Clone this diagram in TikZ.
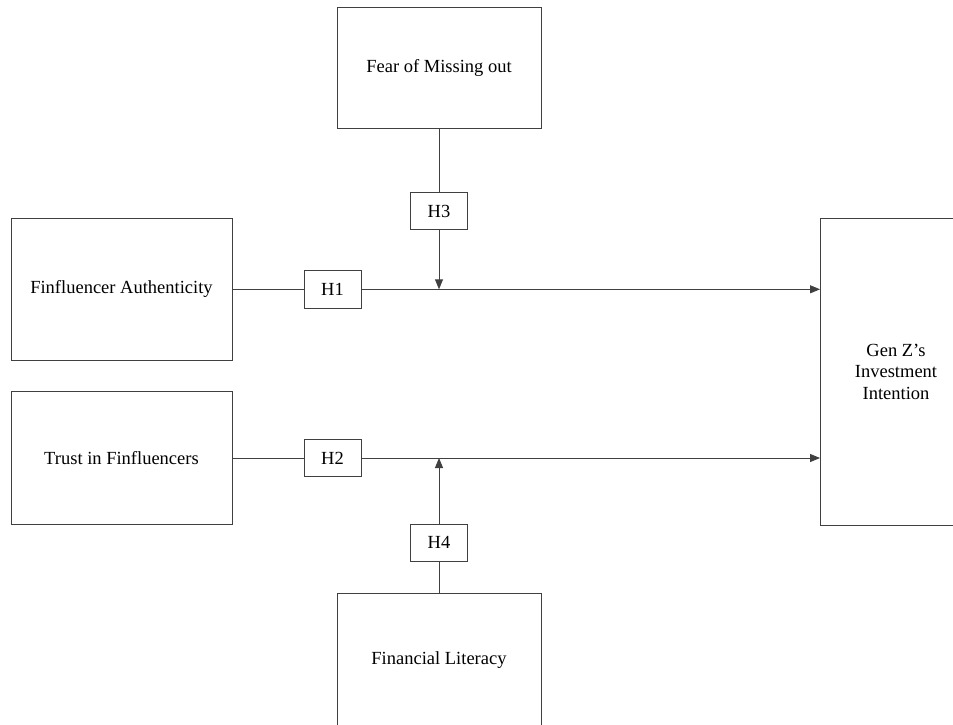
\documentclass[tikz,border=0pt]{standalone}
\usepackage{fontspec}
\setmainfont{Liberation Serif}
\usetikzlibrary{arrows.meta}
\tikzset{
  construct/.style={draw=black!75, line width=0.9pt, inner sep=0pt, align=center,
    font=\fontsize{18.5}{21.5}\selectfont},
  hyp/.style={construct, minimum width=57pt, minimum height=37.5pt},
  link/.style={draw=black!75, line width=0.9pt},
  effect/.style={link, -{Triangle[length=10pt,width=8pt]}}
}
\begin{document}
\begin{tikzpicture}[x=1pt,y=-1pt]
      \useasboundingbox (0,0) rectangle (953,725);
      \clip (0,0) rectangle (953,725);
      \node[construct, minimum width=204pt, minimum height=121pt] (fomo) at (439,67.7) {Fear of Missing out};
      \node[hyp] (h3) at (439,211) {H3};
      \node[construct, minimum width=221pt, minimum height=142.7pt] (auth) at (121.5,289.3) {Finfluencer Authenticity};
      \node[hyp] (h1) at (332.5,289.3) {H1};
      \node[construct, minimum width=151pt, minimum height=307pt] (genz) at (896,371.5) {Gen Z's\\Investment\\Intention};
      \node[construct, minimum width=221pt, minimum height=133.3pt] (trust) at (121.5,458) {Trust in Finfluencers};
      \node[hyp] (h2) at (332.5,458) {H2};
      \node[hyp] (h4) at (439,542.8) {H4};
      \node[construct, minimum width=204pt, minimum height=134pt] (lit) at (439,660) {Financial Literacy};
      \coordinate (j1) at (h3.south |- h1.east);
      \coordinate (j2) at (h4.north |- h2.east);
      \begin{scope}
        \draw[link] (auth) to (h1);
        \draw[effect] (h1) to (genz.west |- h1.east);
        \draw[link] (trust) to (h2);
        \draw[effect] (h2) to (genz.west |- h2.east);
        \draw[link] (fomo) to (h3);
        \draw[effect] (h3) to (j1);
        \draw[link] (lit) to (h4);
        \draw[effect] (h4) to (j2);
      \end{scope}
    \end{tikzpicture}
\end{document}
